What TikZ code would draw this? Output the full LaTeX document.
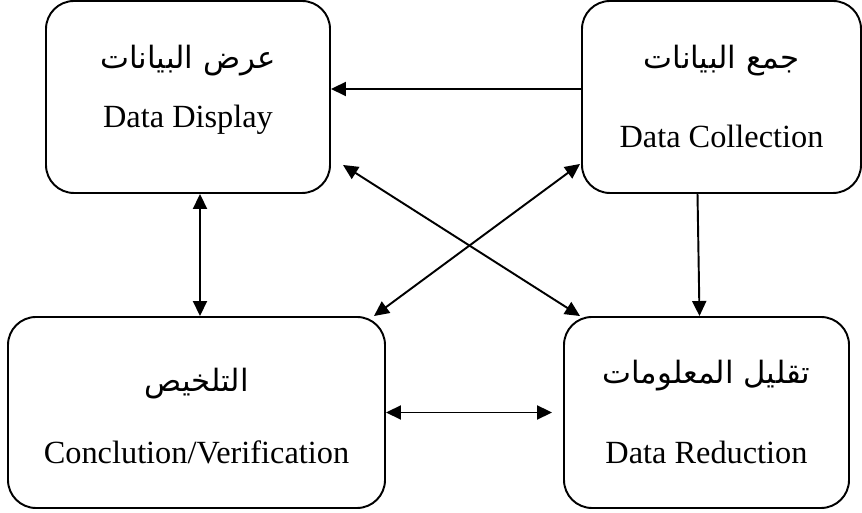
\documentclass[tikz,border=0pt]{standalone}
\usepackage{fontspec}
\setmainfont{Liberation Serif}
\newfontfamily\arabicfont[Script=Arabic]{DejaVu Sans}
\TeXXeTstate=1
\usetikzlibrary{arrows.meta,calc}

\begin{document}
\begin{tikzpicture}[
    stage/.style={draw, line width=1.1pt, rounded corners=0.56cm, inner sep=0pt},
    link/.style={line width=1.1pt, -{Triangle[length=0.3cm,width=0.28cm]}},
    twoway/.style={line width=1.1pt, {Triangle[length=0.3cm,width=0.28cm]}-{Triangle[length=0.3cm,width=0.28cm]}},
    artext/.style={anchor=base, font=\arabicfont\fontsize{17.5}{21}\selectfont},
    entext/.style={anchor=base, font=\fontsize{18.4}{22}\selectfont}
]
    \useasboundingbox (0,0) rectangle (17.24,10.26);

    % Draw the four boxes
    \node[stage, minimum width=5.68cm, minimum height=3.84cm] (display) at (3.76,8.32) {};  % top left
    \node[stage, minimum width=5.58cm, minimum height=3.84cm] (collect) at (14.43,8.32) {}; % top right
    \node[stage, minimum width=7.54cm, minimum height=3.82cm] (conclude) at (3.93,2.01) {}; % bottom left
    \node[stage, minimum width=5.70cm, minimum height=3.82cm] (reduce) at (14.13,2.01) {};  % bottom right

    % Label the boxes
    \node[artext] (displayAr) at ($(display.center)+(0,0.56)$) {\beginR عرض البيانات\endR};
    \node[entext] (displayEn) at ($(display.center)+(0,-0.62)$) {Data Display};
    \node[artext] (collectAr) at ($(collect.center)+(0,0.56)$) {\beginR جمع البيانات\endR};
    \node[entext] (collectEn) at ($(collect.center)+(0,-1.02)$) {Data Collection};
    \node[artext] (concludeAr) at ($(conclude.center)+(0,0.42)$) {\beginR التلخيص\endR};
    \node[entext] (concludeEn) at ($(conclude.center)+(0,-1.03)$) {Conclution/Verification};
    \node[artext] (reduceAr) at ($(reduce.center)+(0,0.58)$) {\beginR تقليل المعلومات\endR};
    \node[entext] (reduceEn) at ($(reduce.center)+(0,-1.03)$) {Data Reduction};

    % Draw the arrows
    \draw[link] ([yshift=0.16cm]collect.west) -- ([yshift=0.16cm]display.east);
    \draw[link] ([xshift=-0.48cm]collect.south) -- ([xshift=-0.14cm]reduce.north);
    \draw[twoway] ([xshift=0.24cm]display.south) -- ([xshift=0.24cm]display.south |- conclude.north);
    \draw[twoway] (conclude.east) -- ([xshift=-0.22cm]reduce.west);
    \draw[twoway] ([xshift=0.24cm,yshift=0.58cm]display.south east) -- ([xshift=0.34cm]reduce.north west);
    \draw[twoway] ([xshift=-0.24cm]conclude.north east) -- ([xshift=-0.02cm,yshift=0.6cm]collect.south west);
\end{tikzpicture}
\end{document}
